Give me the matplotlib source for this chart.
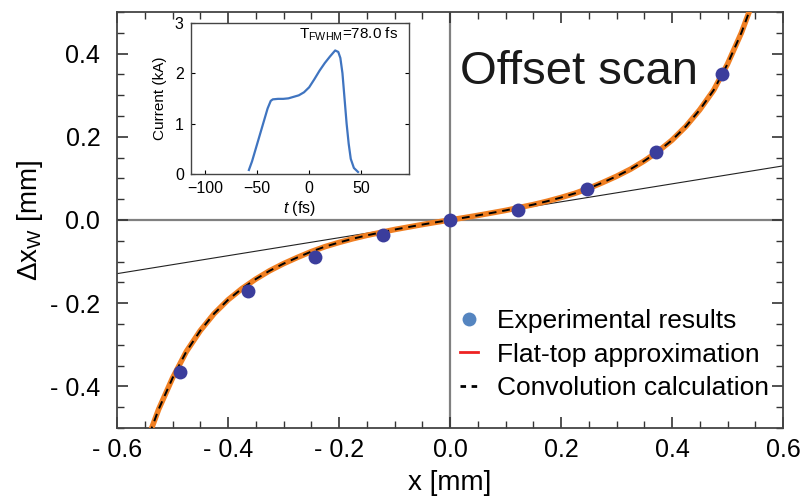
import matplotlib
matplotlib.use('Agg')
import matplotlib.pyplot as plt
from matplotlib.lines import Line2D
from matplotlib.ticker import MultipleLocator

plt.rcParams['font.family'] = ['Liberation Sans', 'DejaVu Sans']
plt.rcParams['mathtext.fontset'] = 'custom'
plt.rcParams['mathtext.rm'] = 'Liberation Sans'
plt.rcParams['mathtext.it'] = 'Liberation Sans:italic'

# measured offsets (mm)
x_exp = [-0.486, -0.364, -0.243, -0.121, 0.0, 0.1225, 0.247, 0.371, 0.49]
y_exp = [-0.366, -0.171, -0.089, -0.036, 0.0, 0.024, 0.075, 0.163, 0.352]

# model curve (flat-top / convolution overlap)
x_model = [-0.55, -0.525, -0.5, -0.475, -0.45, -0.425, -0.4, -0.375, -0.35, -0.325,
           -0.3, -0.275, -0.25, -0.225, -0.2, -0.175, -0.15, -0.125, -0.1, -0.075,
           -0.05, -0.025, 0.0, 0.025, 0.05, 0.075, 0.1, 0.125, 0.15, 0.175, 0.2,
           0.225, 0.25, 0.275, 0.3, 0.325, 0.35, 0.375, 0.4, 0.425, 0.45, 0.475,
           0.5, 0.525, 0.55]
y_model = [-0.545, -0.455, -0.38, -0.316, -0.266, -0.225, -0.192, -0.165, -0.142, -0.122,
           -0.105, -0.090, -0.076, -0.064, -0.054, -0.045, -0.037, -0.030, -0.023, -0.017,
           -0.011, -0.0054, 0.0, 0.0054, 0.011, 0.017, 0.023, 0.030, 0.037, 0.045, 0.054,
           0.064, 0.076, 0.090, 0.105, 0.122, 0.142, 0.165, 0.192, 0.225, 0.265, 0.312,
           0.375, 0.45, 0.54]

# linear reference
x_lin = [-0.6, 0.6]
y_lin = [-0.129, 0.130]

# current profile for the inset
t_fs = [-58, -55, -50, -45, -40, -37, -35, -30, -25, -20, -15, -10, -5, 0, 5,
        10, 15, 20, 25, 28, 30, 32, 34, 36, 38, 40, 43, 47]
cur_kA = [0.08, 0.25, 0.6, 0.95, 1.3, 1.45, 1.48, 1.49, 1.49, 1.50, 1.53, 1.56, 1.62, 1.72, 1.88,
          2.05, 2.2, 2.33, 2.45, 2.42, 2.3, 2.0, 1.5, 1.0, 0.6, 0.3, 0.12, 0.04]

xticks = [-0.6, -0.4, -0.2, 0.0, 0.2, 0.4, 0.6]
xtick_labels = ['- 0.6', '- 0.4', '- 0.2', '0.0', '0.2', '0.4', '0.6']
yticks = [-0.4, -0.2, 0.0, 0.2, 0.4]
ytick_labels = ['- 0.4', '- 0.2', '0.0', '0.2', '0.4']

fig = plt.figure(figsize=(8.06, 4.99), dpi=100)
ax = fig.add_axes([0.1452, 0.1423, 0.8263, 0.8337])
ax.set_xlim(-0.6, 0.6)
ax.set_ylim(-0.5, 0.5)

ax.axhline(0, color='#808080', lw=1.6, zorder=1)
ax.axvline(0, color='#808080', lw=1.6, zorder=1)
ax.plot(x_lin, y_lin, color='#222222', lw=0.8, zorder=2)
ax.plot(x_model, y_model, color='#f07f22', lw=4, zorder=3, solid_capstyle='butt')
ax.plot(x_model, y_model, color='black', lw=1.4, ls=(0, (4, 3)), zorder=4)
ax.plot(x_exp, y_exp, 'o', color='#3b3d9c', ms=10, mec='none', zorder=5)

ax.text(0.018, 0.328, 'Offset scan', fontsize=34, color='#1a1a1a')

ax.set_xticks(xticks)
ax.set_xticklabels(xtick_labels)
ax.set_yticks(yticks)
ax.set_yticklabels(ytick_labels)
ax.xaxis.set_minor_locator(MultipleLocator(0.05))
ax.yaxis.set_minor_locator(MultipleLocator(0.05))
ax.tick_params(which='both', direction='in', top=True, right=True, colors='#333333',
               labelcolor='black', labelsize=18)
ax.tick_params(which='major', length=8, width=1.2)
ax.tick_params(which='minor', length=5, width=1.0)
ax.tick_params(axis='x', which='major', pad=7)
ax.tick_params(axis='y', which='major', pad=12)
for s in ax.spines.values():
    s.set_color('#444444')
    s.set_linewidth(1.3)
ax.set_xlabel('x [mm]', fontsize=20, labelpad=6)
ax.set_ylabel(r'Δx$_{\mathrm{W}}$ [mm]', fontsize=20, labelpad=4)

handles = [
    Line2D([], [], marker='o', ls='none', color='#5585c0', ms=10, mec='none'),
    Line2D([], [], color='#ee2222', lw=2),
    Line2D([], [], color='black', lw=2, ls=(0, (2, 2))),
]
labels = ['Experimental results', 'Flat-top approximation', 'Convolution calculation']
fig.legend(handles, labels, loc='upper left', bbox_to_anchor=(0.5707, 0.381),
           frameon=False, fontsize=19, handlelength=0.68, handletextpad=0.72,
           labelspacing=0.37, borderpad=0, borderaxespad=0)

# inset: current profile
ins = fig.add_axes([0.2366, 0.6513, 0.2708, 0.3032])
ins.plot(t_fs, cur_kA, color='#3f74c0', lw=1.6)
ins.set_xlim(-114, 96)
ins.set_ylim(0, 3)
ins.set_xticks([-100, -50, 0, 50])
ins.set_yticks([0, 1, 2, 3])
ins.tick_params(direction='in', right=True, length=3, labelsize=11.5, pad=5)
for s in ins.spines.values():
    s.set_color('#444444')
    s.set_linewidth(1.0)
ins.set_xlabel(r'$t$ (fs)', fontsize=11.5, labelpad=2)
ins.set_ylabel('Current (kA)', fontsize=11, labelpad=6)
ins.text(86, 2.68, r'T$_{\mathrm{FWHM}}$=78.0 fs', fontsize=11, ha='right', va='baseline')

fig.savefig('out.png', dpi=100)
